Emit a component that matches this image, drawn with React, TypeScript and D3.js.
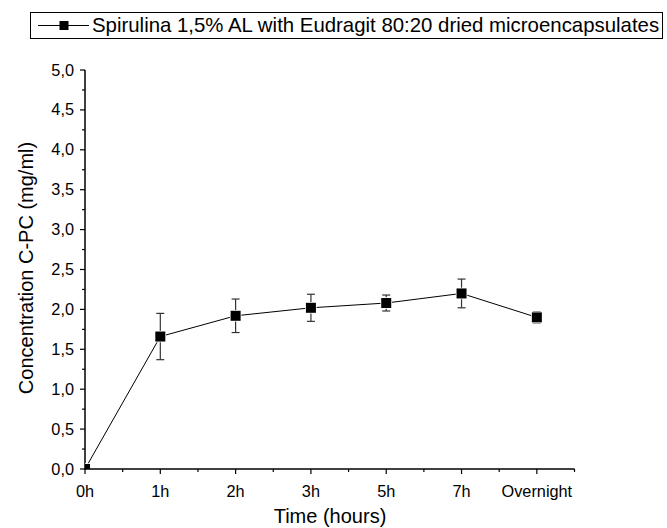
import React from "react";
import * as d3 from "d3";

const categories = ["0h", "1h", "2h", "3h", "5h", "7h", "Overnight"];
const values = [0, 1.66, 1.92, 2.02, 2.08, 2.2, 1.9];
const errors = [0, 0.29, 0.21, 0.17, 0.1, 0.18, 0.07];
const yTicks = [0, 0.5, 1, 1.5, 2, 2.5, 3, 3.5, 4, 4.5, 5];
const seriesName = "Spirulina 1,5% AL with Eudragit 80:20 dried microencapsulates";

const W = 667, H = 528;
const x0 = 85, x1 = 574.5, y0 = 469, y1 = 70;
const font = "Liberation Sans, Arial, sans-serif";

export default function App() {
  const x = d3.scaleLinear().domain([0, 6.5]).range([x0, x1]);
  const y = d3.scaleLinear().domain([0, 5]).range([y0, y1]);
  const fmt = (v: number) => v.toFixed(1).replace(".", ",");
  const line = d3.line<number>().x((_, i) => x(i)).y((d) => y(d));
  const xMinor = d3.range(0.5, 6.6, 1);
  const yMinor = d3.range(0.25, 5, 0.5);
  const ms = 10;
  return (
    <svg width={W} height={H} style={{ position: "absolute", left: 0, top: 0, background: "#fff" }}>
      <defs>
        <clipPath id="plot">
          <rect x={x0} y={y1 - 10} width={x1 - x0 + 10} height={y0 - y1 + 10} />
        </clipPath>
      </defs>
      {/* legend */}
      <rect x={30.5} y={12.5} width={632} height={26} fill="#fff" stroke="#000" strokeWidth={1} />
      <line x1={38} x2={89} y1={25.5} y2={25.5} stroke="#000" strokeWidth={1} />
      <rect x={59.5} y={21} width={9} height={9} fill="#000" />
      <text x={92} y={31.5} fontFamily={font} fontSize={20.4} fill="#000">{seriesName}</text>

      {/* axes */}
      <line x1={x0} x2={x0} y1={y1} y2={y0 + 0.5} stroke="#000" strokeWidth={1.5} />
      {yTicks.map((t) => (
        <g key={"y" + t}>
          <line x1={x0 - 5} x2={x0} y1={y(t)} y2={y(t)} stroke="#000" strokeWidth={1.2} />
          <text x={x0 - 11} y={y(t) + 5.5} textAnchor="end" fontFamily={font} fontSize={16.3}>{fmt(t)}</text>
        </g>
      ))}
      {yMinor.map((t) => (
        <line key={"ym" + t} x1={x0 - 3} x2={x0} y1={y(t)} y2={y(t)} stroke="#000" strokeWidth={1.2} />
      ))}
      {categories.map((c, i) => (
        <g key={c}>
          <line x1={x(i)} x2={x(i)} y1={y0} y2={y0 + 5} stroke="#000" strokeWidth={1.2} />
          <text x={x(i)} y={y0 + 27.5} textAnchor="middle" fontFamily={font} fontSize={16.3}>{c}</text>
        </g>
      ))}
      {xMinor.map((t) => (
        <line key={"xm" + t} x1={x(t)} x2={x(t)} y1={y0} y2={y0 + 3} stroke="#000" strokeWidth={1.2} />
      ))}
      <text x={330} y={522.5} textAnchor="middle" fontFamily={font} fontSize={20}>Time (hours)</text>
      <text transform={`translate(32.5,268) rotate(-90)`} textAnchor="middle" fontFamily={font} fontSize={20}>
        Concentration C-PC (mg/ml)
      </text>

      <g clipPath="url(#plot)">
        <path d={line(values) || ""} fill="none" stroke="#000" strokeWidth={1} />
        {values.map((v, i) =>
          errors[i] > 0 ? (
            <g key={"e" + i} stroke="#333" strokeWidth={1.2}>
              <line x1={x(i)} x2={x(i)} y1={y(v - errors[i])} y2={y(v + errors[i])} />
              <line x1={x(i) - 4} x2={x(i) + 4} y1={y(v + errors[i])} y2={y(v + errors[i])} />
              <line x1={x(i) - 4} x2={x(i) + 4} y1={y(v - errors[i])} y2={y(v - errors[i])} />
            </g>
          ) : null
        )}
        {values.map((v, i) => (
          <rect key={"m" + i} x={x(i) - ms / 2} y={y(v) - ms / 2} width={ms} height={ms} fill="#000" stroke="#fff" strokeWidth={1.5} paintOrder="stroke" />
        ))}
      </g>
      <line x1={x0 - 0.5} x2={x1} y1={y0} y2={y0} stroke="#000" strokeWidth={1.5} />
    </svg>
  );
}
